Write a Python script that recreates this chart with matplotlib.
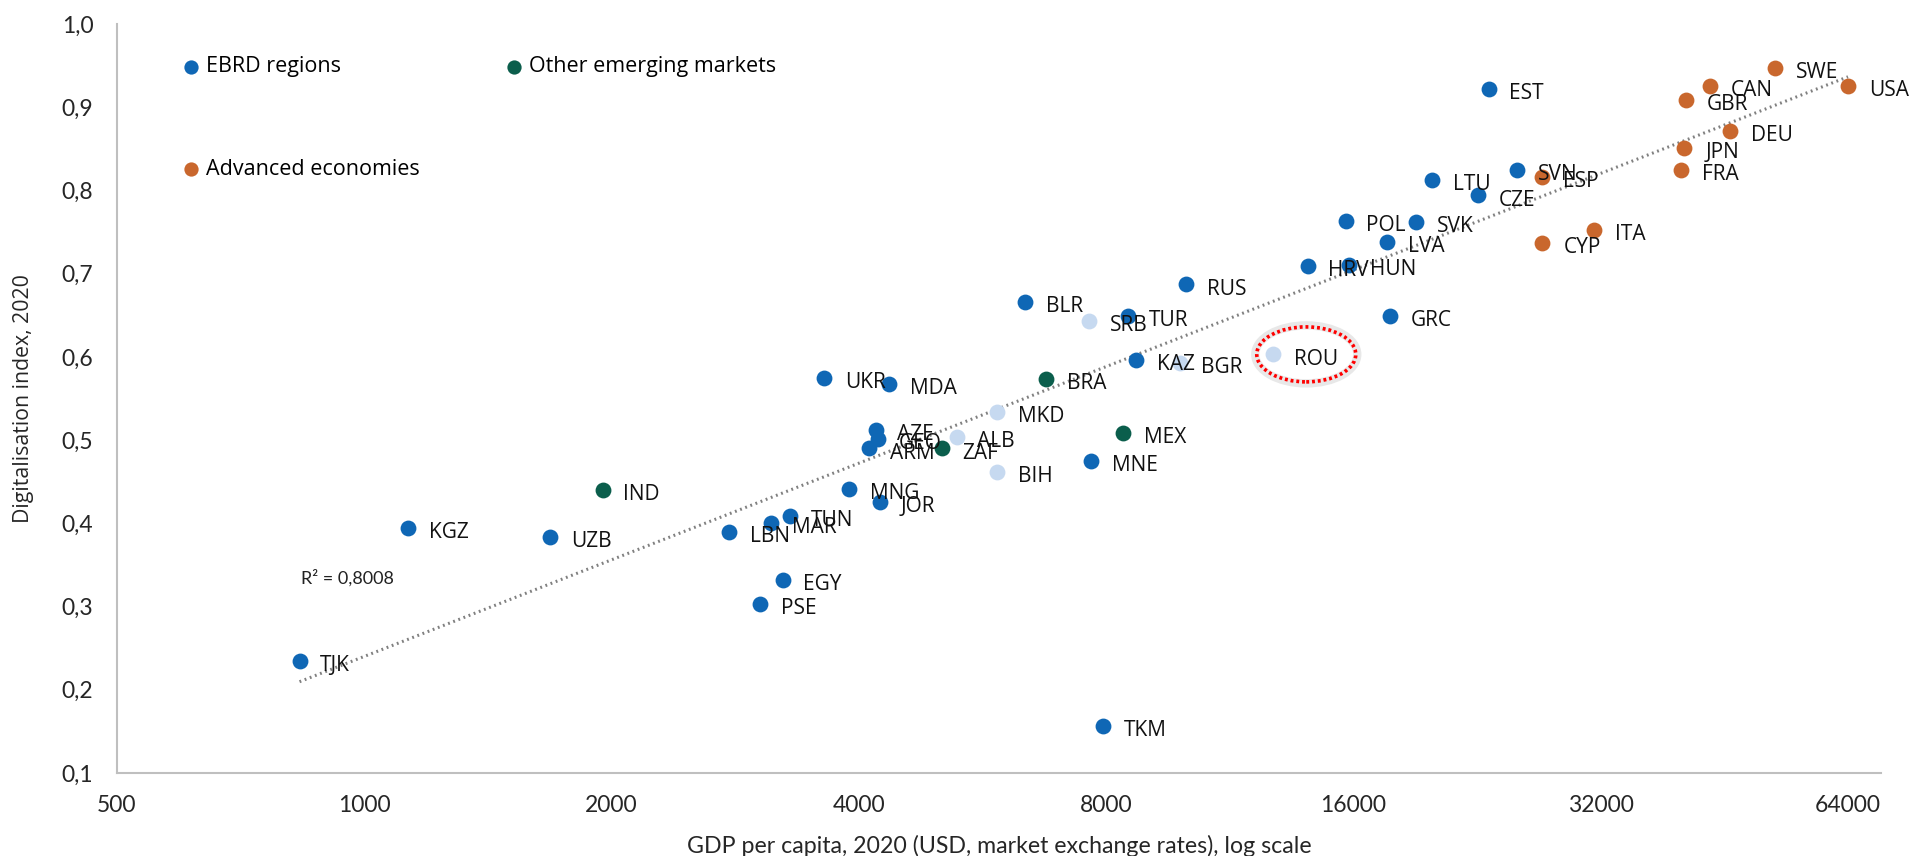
import matplotlib
matplotlib.use("Agg")
import matplotlib.pyplot as plt
import numpy as np
from matplotlib.patches import Ellipse
from matplotlib.transforms import ScaledTranslation
from matplotlib.ticker import FixedLocator, FixedFormatter, NullLocator

# EBRD regions (dark blue)
ebrd_names = ["EST", "LTU", "SVN", "CZE", "POL", "SVK", "LVA", "HRV", "HUN", "GRC",
              "RUS", "BLR", "TUR", "KAZ", "UKR", "MDA", "AZE", "GEO", "ARM", "MNE",
              "MNG", "JOR", "TUN", "MAR", "LBN", "KGZ", "UZB", "EGY", "PSE", "TJK", "TKM"]
ebrd_gdp = [23370, 19960, 25300, 22660, 15650, 19090, 17580, 14070, 15820, 17710,
            10020, 6370, 8500, 8700, 3630, 4350, 4200, 4220, 4120, 7670,
            3890, 4240, 3300, 3130, 2780, 1130, 1684, 3230, 3030, 834, 7935]
ebrd_dig = [0.922, 0.813, 0.825, 0.794, 0.763, 0.762, 0.738, 0.709, 0.710, 0.649,
            0.687, 0.666, 0.649, 0.596, 0.575, 0.568, 0.512, 0.501, 0.490, 0.475,
            0.441, 0.426, 0.409, 0.400, 0.390, 0.394, 0.384, 0.332, 0.303, 0.235, 0.157]

# EBRD regions shown in light blue
light_names = ["SRB", "BGR", "ROU", "MKD", "ALB", "BIH"]
light_gdp = [7620, 9850, 12780, 5890, 5260, 5890]
light_dig = [0.643, 0.593, 0.603, 0.534, 0.504, 0.462]

# Other emerging markets
em_names = ["IND", "BRA", "MEX", "ZAF"]
em_gdp = [1950, 6760, 8380, 5045]
em_dig = [0.440, 0.574, 0.509, 0.490]

# Advanced economies
adv_names = ["SWE", "USA", "CAN", "GBR", "DEU", "JPN", "FRA", "ESP", "CYP", "ITA"]
adv_gdp = [52170, 64000, 43490, 40590, 45940, 40460, 40060, 27180, 27180, 31380]
adv_dig = [0.947, 0.926, 0.926, 0.909, 0.872, 0.851, 0.825, 0.816, 0.737, 0.753]

x_ticks = [500, 1000, 2000, 4000, 8000, 16000, 32000, 64000]
x_tick_labels = ["500", "1000", "2000", "4000", "8000", "16000", "32000", "64000"]
y_ticks = [0.1, 0.2, 0.3, 0.4, 0.5, 0.6, 0.7, 0.8, 0.9, 1.0]
y_tick_labels = ["0,1", "0,2", "0,3", "0,4", "0,5", "0,6", "0,7", "0,8", "0,9", "1,0"]
r2_text = "R² = 0,8008"

BLUE = "#0F67B5"
LIGHT = "#C6D9F0"
GREEN = "#0B5E4C"
ORANGE = "#C9672D"

fig = plt.figure(figsize=(19.1, 8.56), dpi=100)
ax = fig.add_axes([117 / 1910, 1 - 773 / 856, 1764 / 1910, 749 / 856])

ms = 130
ax.scatter(ebrd_gdp, ebrd_dig, s=ms, color=BLUE, linewidths=0, zorder=3, label="EBRD regions")
ax.scatter(light_gdp, light_dig, s=ms, color=LIGHT, linewidths=0, zorder=3)
ax.scatter(em_gdp, em_dig, s=ms, color=GREEN, linewidths=0, zorder=3, label="Other emerging markets")
ax.scatter(adv_gdp, adv_dig, s=ms, color=ORANGE, linewidths=0, zorder=3, label="Advanced economies")

# logarithmic trend line over all countries
all_x = np.array(ebrd_gdp + light_gdp + em_gdp + adv_gdp, dtype=float)
all_y = np.array(ebrd_dig + light_dig + em_dig + adv_dig)
b, a = np.polyfit(np.log(all_x), all_y, 1)
xs = np.geomspace(all_x.min(), all_x.max(), 200)
ax.plot(xs, a + b * np.log(xs), color="#808080", lw=2.2, ls=(0, (0.6, 1.2)), zorder=2)

# country labels
for names, gx, gy in [(ebrd_names, ebrd_gdp, ebrd_dig), (light_names, light_gdp, light_dig),
                      (em_names, em_gdp, em_dig), (adv_names, adv_gdp, adv_dig)]:
    for n, xv, yv in zip(names, gx, gy):
        ax.annotate(n, (xv, yv), xytext=(15, -7.3), textcoords="offset points",
                    va="baseline", ha="left", fontsize=15, family="Open Sans",
                    color="#111111", zorder=4)

ax.text(0.1308, 0.2608, r2_text, transform=ax.transAxes, fontsize=13,
        family="Lato", color="#222222", ha="center", va="center")

# highlight ROU
rou = light_names.index("ROU")
ell_tr = fig.dpi_scale_trans + ScaledTranslation(light_gdp[rou], light_dig[rou], ax.transData)
ax.add_patch(Ellipse((0.33, 0.0), 1.02, 0.58, transform=ell_tr, fill=False,
                     edgecolor="#D9D9D9", lw=6, alpha=0.6, zorder=1))
ax.add_patch(Ellipse((0.33, 0.0), 0.99, 0.55, transform=ell_tr, fill=False,
                     edgecolor="#FF0000", lw=2.6, ls=(0, (0.8, 0.8)), zorder=5))

ax.set_xscale("log")
ax.set_xlim(500, 70200)
ax.set_ylim(0.1, 1.0)
ax.xaxis.set_major_locator(FixedLocator(x_ticks))
ax.xaxis.set_major_formatter(FixedFormatter(x_tick_labels))
ax.xaxis.set_minor_locator(NullLocator())
ax.set_yticks(y_ticks)
ax.set_yticklabels(y_tick_labels)
ax.tick_params(length=0, labelsize=16.5, colors="#262626")
ax.tick_params(axis="x", pad=16)
ax.tick_params(axis="y", pad=17)
for lab in ax.get_xticklabels() + ax.get_yticklabels():
    lab.set_family("Lato")

for s in ["top", "right"]:
    ax.spines[s].set_visible(False)
for s in ["left", "bottom"]:
    ax.spines[s].set_color("#BFBFBF")
    ax.spines[s].set_linewidth(1.5)

ax.set_xlabel("GDP per capita, 2020 (USD, market exchange rates), log scale",
              fontsize=16.7, family="Lato", color="#262626")
ax.xaxis.set_label_coords(0.5, -0.083)
ax.set_ylabel("Digitalisation index, 2020", fontsize=15.3, family="Open Sans",
              color="#262626")
ax.yaxis.set_label_coords(-0.047, 0.5)

h, l = ax.get_legend_handles_labels()
order = [0, 2, 1]
ax.legend([h[i] for i in order], [l[i] for i in order], ncol=2, loc="upper left",
          bbox_to_anchor=(0.037, 0.957), frameon=False, borderaxespad=0, borderpad=0,
          markerscale=0.9, handlelength=0.8, handletextpad=0.3, columnspacing=4.0,
          labelspacing=3.8, prop={"family": "Open Sans", "size": 15.5})

fig.savefig("out.png", dpi=100)
